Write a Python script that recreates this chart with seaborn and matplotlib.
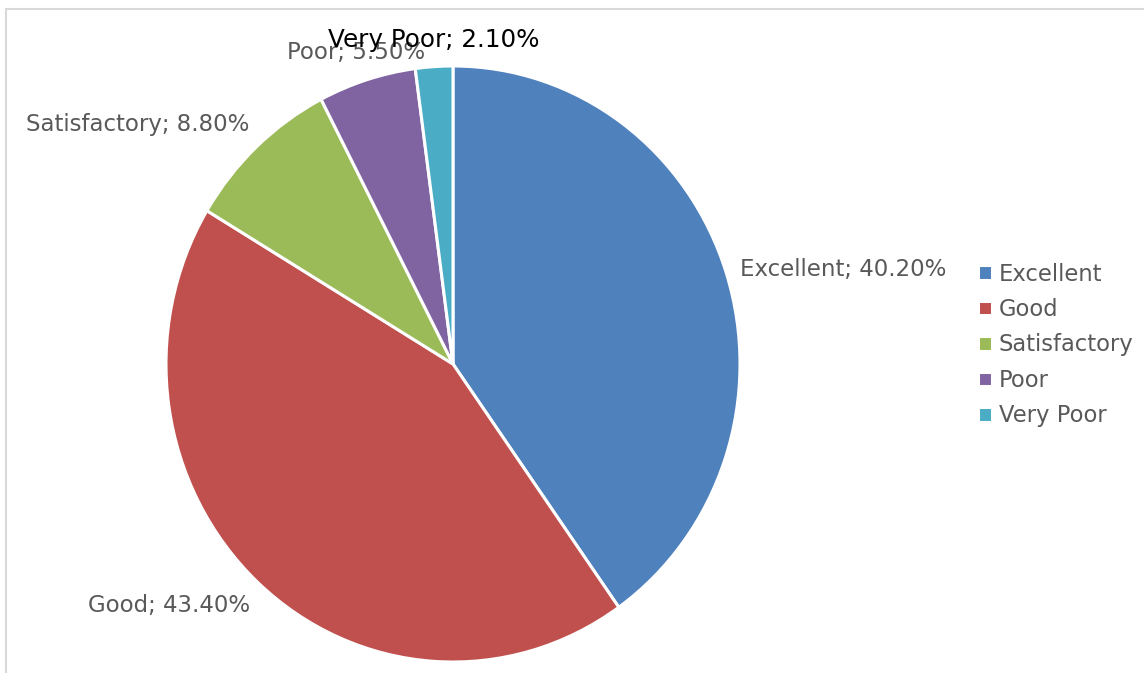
"""
pie of rating shares, excel style
"""
import numpy as np
import seaborn as sns
import matplotlib.pyplot as plt
from matplotlib.patches import Rectangle

sns.set_theme(style="white")
plt.rcParams["font.family"] = ["DejaVu Sans"]

categories = ["Excellent", "Good", "Satisfactory", "Poor", "Very Poor"]
shares = [40.2, 43.4, 8.8, 5.5, 2.1]
colors = ["#4F81BD", "#C0504D", "#9BBB59", "#8064A2", "#4BACC6"]

TEXT_COLOR = "#595959"
W, H = 1144, 673

# label offsets (points) from the wedge rim at mid angle, plus alignment
LABEL_STYLE = [
    dict(off=(9.5, 3), ha="left", va="center", color=TEXT_COLOR, size=16.5),
    dict(off=(-5.5, -16.5), ha="right", va="center", color=TEXT_COLOR, size=16.5),
    dict(off=(-5.5, 16), ha="right", va="center", color=TEXT_COLOR, size=16.5),
    dict(off=(-7.5, 19.5), ha="center", va="center", color=TEXT_COLOR, size=16.5),
    dict(off=(0, 19.5), ha="center", va="center", color="black", size=17.7),
]

fig = plt.figure(figsize=(W / 100, H / 100), dpi=100)
# pie box in pixels: x 166..740, y 66..662
ax = fig.add_axes([166 / W, (H - 662) / H, 574 / W, 596 / H])

wedges, _ = ax.pie(shares, colors=colors, startangle=90, counterclock=False,
                   radius=1, wedgeprops=dict(edgecolor="white", linewidth=2.2))
ax.set_aspect("auto")
ax.set_xlim(-1, 1)
ax.set_ylim(-1, 1)
ax.axis("off")

for w, cat, val, st in zip(wedges, categories, shares, LABEL_STYLE):
    mid = np.deg2rad((w.theta1 + w.theta2) / 2)
    ax.annotate(f"{cat}; {val:.2f}%", xy=(np.cos(mid), np.sin(mid)),
                xytext=st["off"], textcoords="offset points",
                ha=st["ha"], va=st["va"], color=st["color"],
                fontsize=st["size"], annotation_clip=False)

leg = fig.legend(wedges, categories, loc="upper left",
                 bbox_to_anchor=(969 / W, 1 - 253.5 / H), frameon=False,
                 fontsize=16.3, handlelength=0.62, handleheight=0.62,
                 handletextpad=0.3, labelspacing=0.55, borderaxespad=0)
for t in leg.get_texts():
    t.set_color(TEXT_COLOR)

# light chart frame, cropped at right and bottom
fig.patches.append(Rectangle((6 / W, -0.1), 1.2, 1.1 - 9 / H,
                             transform=fig.transFigure, fill=False,
                             edgecolor="#d9d9d9", linewidth=1.5))

plt.savefig("out.png", dpi=100)
plt.close()
